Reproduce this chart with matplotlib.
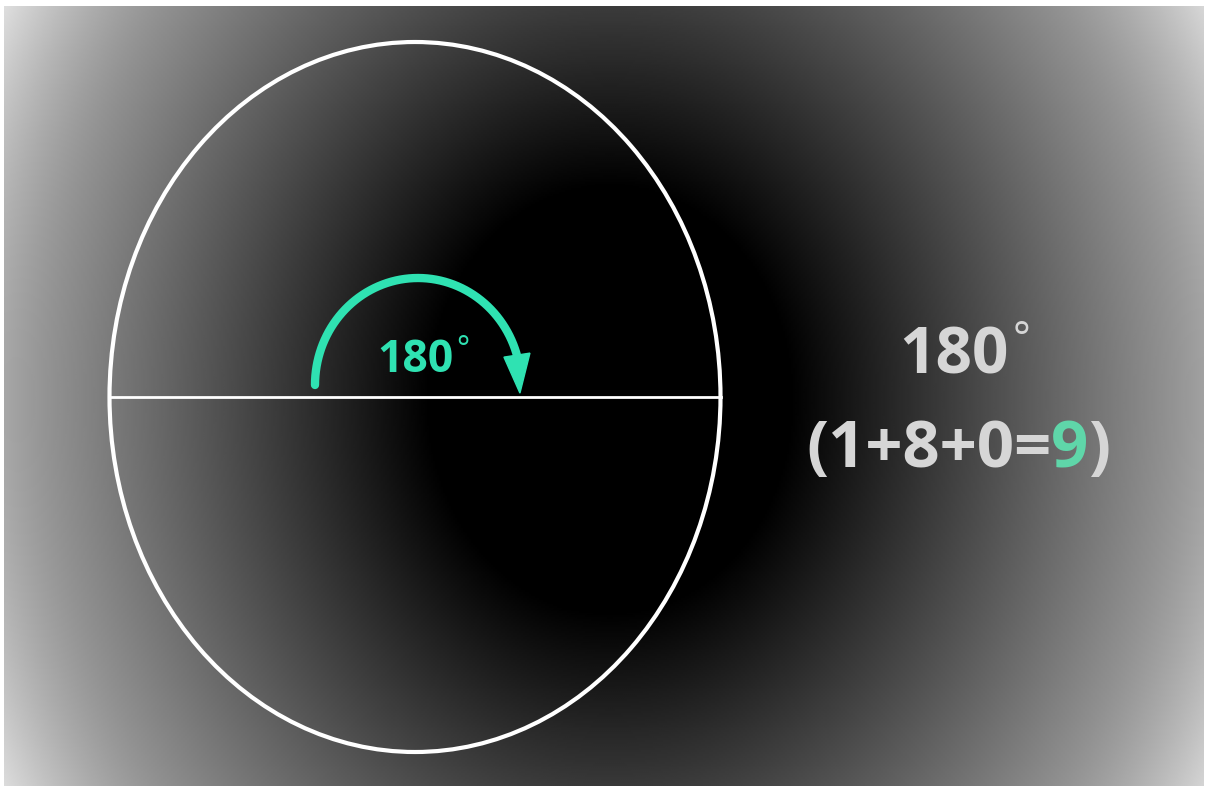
import numpy as np
import matplotlib.pyplot as plt
from matplotlib.patches import Ellipse, Polygon

# circle (drawn as the ellipse seen in the picture), pixel units
circle_center = (415, 397)
circle_size = (611, 710)

# the 180 degree sweep arrow
sweep_center = (418, 385)
sweep_radius = (103, 107)
sweep_from_deg = 180
sweep_to_deg = 14
sweep_label = "180"

# right-hand caption
caption_top = "180"
caption_parts = ["(1+8+0=", "9", ")"]
caption_colors = ["#d6d6d6", "#5fd6a9", "#d6d6d6"]

teal = "#2fe2b2"
fonts = ["Open Sans", "DejaVu Sans"]

W, H = 1206, 786
fig = plt.figure(figsize=(W / 100, H / 100), dpi=100, facecolor="white")
ax = fig.add_axes([0, 0, 1, 1])
ax.set_xlim(0, W)
ax.set_ylim(H, 0)
ax.axis("off")

# dark vignette background
x0, x1, y0, y1 = 4, 1204, 6, 786
xx, yy = np.meshgrid(np.linspace(x0, x1, 600), np.linspace(y0, y1, 400))
d = np.hypot(xx - 610, (yy - 400) * 0.85)
shade = 0.0015 * (d - 180) + 5e-6 * np.clip(d - 550, 0, None) ** 2
shade = np.clip(shade, 0, 0.92)
ax.imshow(shade, cmap="gray", vmin=0, vmax=1, extent=[x0, x1, y1, y0],
          interpolation="bilinear", aspect="auto", zorder=0)

# circle and diameter
ax.add_patch(Ellipse(circle_center, circle_size[0], circle_size[1], fill=False,
                     edgecolor="white", linewidth=3, zorder=2))
half = circle_size[0] / 2
ax.plot([circle_center[0] - half, circle_center[0] + half],
        [circle_center[1], circle_center[1]], color="white", lw=2, zorder=2)

# arc arrow
t = np.radians(np.linspace(sweep_from_deg, sweep_to_deg, 200))
ax.plot(sweep_center[0] + sweep_radius[0] * np.cos(t),
        sweep_center[1] - sweep_radius[1] * np.sin(t),
        color=teal, lw=6, solid_capstyle="round", zorder=3)
ex = sweep_center[0] + sweep_radius[0] * np.cos(t[-1])
ey = sweep_center[1] - sweep_radius[1] * np.sin(t[-1])
ax.add_patch(Polygon([[ex - 14, ey - 2], [ex + 12, ey - 6], [ex + 2, ey + 34]],
                     closed=True, color=teal, zorder=3))
lbl = ax.text(415, 372, sweep_label, color=teal, fontsize=32, fontweight="bold",
              family=fonts, ha="center", va="baseline", zorder=4)
ax.annotate("°", xy=(1, 1), xycoords=lbl, xytext=(2, 2), textcoords="offset points",
            color=teal, fontsize=22, family=fonts, ha="left", va="top")

# caption
top = ax.text(954, 373, caption_top, color=caption_colors[0], fontsize=46,
              fontweight="bold", family=fonts, ha="center", va="baseline")
ax.annotate("°", xy=(1, 1), xycoords=top, xytext=(3, 3), textcoords="offset points",
            color=caption_colors[0], fontsize=30, family=fonts, ha="left", va="top")
prev = ax.text(806, 467, caption_parts[0], color=caption_colors[0], fontsize=47,
               fontweight="bold", family=fonts, ha="left", va="baseline")
for part, col in zip(caption_parts[1:], caption_colors[1:]):
    prev = ax.annotate(part, xy=(1, 0), xycoords=prev, color=col, fontsize=47,
                       fontweight="bold", family=fonts, ha="left", va="bottom")

fig.savefig("out.png", dpi=100, facecolor="white")
